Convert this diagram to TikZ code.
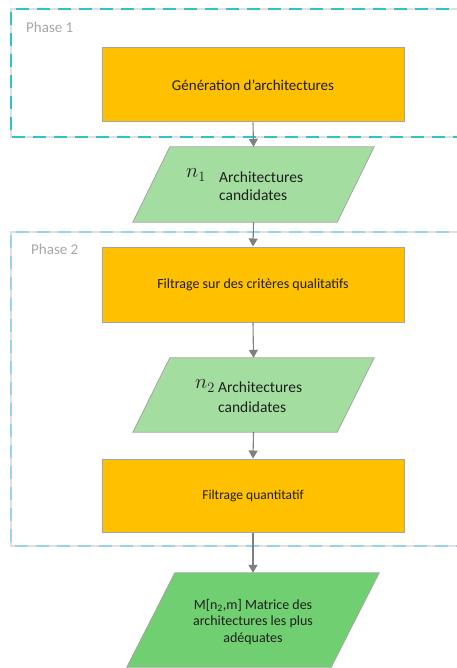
\documentclass[tikz,border=0pt]{standalone}
\usepackage{fontspec}
\setmainfont{Carlito}
\usetikzlibrary{calc,arrows.meta}
\definecolor{orangefill}{HTML}{FFC000}
\definecolor{boxborder}{HTML}{A5A5A5}
\definecolor{lightgreen}{HTML}{A3DEA0}
\definecolor{midgreen}{HTML}{70CF70}
\definecolor{phaseone}{HTML}{2EC4C4}
\definecolor{phasetwo}{HTML}{9AD2EC}
\definecolor{arrowgray}{HTML}{7F7F7F}
\definecolor{labelgray}{HTML}{A6A6A6}
\definecolor{textdark}{HTML}{1F1F1F}
\newcommand\drawpara[3]{%
  \draw[#2] ($(#1.north west)+(#3,0)$) -- ($(#1.north east)+(#3,0)$)
     -- ($(#1.south east)+(-#3,0)$) -- ($(#1.south west)+(-#3,0)$) -- cycle;}
\begin{document}
\begin{tikzpicture}[x=1pt,y=-1pt,
  procbox/.style={draw=boxborder,line width=1pt,fill=orangefill,minimum width=302pt,
     text=textdark,inner sep=0pt},
  parabox/.style={draw=none,minimum width=204pt,inner sep=0pt},
  paralight/.style={draw=boxborder,line width=0.8pt,fill=lightgreen},
  paradark/.style={draw=boxborder,line width=0.8pt,fill=midgreen},
  phaseunder/.style={draw=black!12,line width=1.6pt},
  phaseA/.style={draw=phaseone,line width=1.6pt,dash pattern=on 13pt off 8pt},
  phaseB/.style={draw=phasetwo,line width=1.6pt,dash pattern=on 13pt off 8pt},
  arr/.style={draw=arrowgray,line width=1.1pt,-{Triangle[length=8pt,width=9pt]}},
  phaselabel/.style={text=labelgray,anchor=west,inner sep=0pt,font=\fontsize{15}{17}\selectfont},
  paratext/.style={text=textdark,inner sep=0pt,anchor=west,font=\fontsize{15.5}{18}\selectfont},
  mathlabel/.style={text=textdark,inner sep=0pt,font=\fontsize{20}{24}\selectfont},
]
\useasboundingbox (0,0) rectangle (456,668);
% phase frames
\draw[phaseunder] (470,9) -- (11,9) -- (11,137) -- (470,137);
\draw[phaseA] (470,9) -- (11,9) -- (11,137) -- (470,137);
\draw[phaseunder] (470,232) -- (11,232) -- (11,546) -- (470,546);
\draw[phaseB] (470,232) -- (11,232) -- (11,546) -- (470,546);
\node[phaselabel] (ph1) at (26,27) {Phase 1};
\node[phaselabel] (ph2) at (31,249) {Phase 2};
% process boxes
\node[procbox,minimum height=74pt,font=\fontsize{15}{17}\selectfont] (b1) at (253,85) {Génération d’architectures};
\node[procbox,minimum height=75pt,font=\fontsize{14}{16}\selectfont] (b2) at (253,284.5) {Filtrage sur des critères qualitatifs};
\node[procbox,minimum height=73pt,font=\fontsize{13.5}{16}\selectfont] (b3) at (253,495.5) {Filtrage quantitatif};
% data boxes
\node[parabox,minimum height=75pt] (p1) at (253.5,184.5) {};
\node[parabox,minimum height=74pt] (p2) at (253.5,395) {};
\node[parabox,minimum height=94pt] (p3) at (253,620) {};
\drawpara{p1}{paralight}{18.5}
\drawpara{p2}{paralight}{18.5}
\drawpara{p3}{paradark}{24}
% texts in data boxes
\node[mathlabel] (n1) at (196,175) {$n_{1}$};
\node[paratext] (t1a) at (219,176.7) {Architectures};
\node[paratext] (t1b) at (219,195) {candidates};
\node[mathlabel] (n2) at (205,386) {$n_{2}$};
\node[paratext] (t2a) at (218,386.7) {Architectures};
\node[paratext] (t2b) at (218,406.7) {candidates};
\node[paratext,anchor=center,align=center,font=\fontsize{14}{16.5}\selectfont] (t3) at (253,622) {M[n\textsubscript{2},m] Matrice des\\architectures les plus\\adéquates};
% connectors
\draw[arr] (b1.south) -- (p1.north);
\draw[arr] (p1.south) -- (b2.north);
\draw[arr] (b2.south) -- (p2.north);
\draw[arr] (p2.south) -- (b3.north);
\draw[arr] (b3.south) -- (p3.north);
\end{tikzpicture}
\end{document}
